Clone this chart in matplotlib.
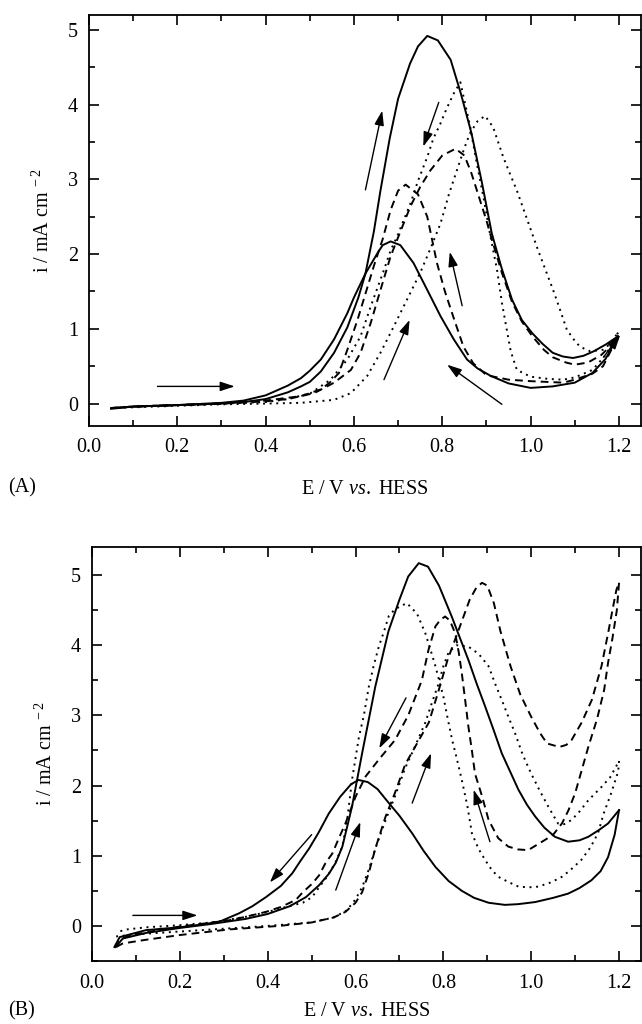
import matplotlib
matplotlib.use("Agg")
import matplotlib.pyplot as plt
from matplotlib.ticker import MultipleLocator

# ---- panel A data (E / V, i / mA cm-2) ----
a_solid_fwd_x = [0.05, 0.1, 0.2, 0.3, 0.35, 0.4, 0.45, 0.48, 0.5, 0.525, 0.555, 0.585, 0.61, 0.626,
                 0.645, 0.66, 0.681, 0.70, 0.727, 0.745, 0.766, 0.79, 0.819, 0.842, 0.866, 0.89,
                 0.912, 0.935, 0.958, 0.98, 1.004, 1.027, 1.05, 1.073, 1.096, 1.12, 1.143, 1.17, 1.198]
a_solid_fwd_y = [-0.06, -0.04, -0.02, 0.0, 0.02, 0.06, 0.15, 0.23, 0.29, 0.43, 0.68, 1.02, 1.42, 1.74,
                 2.3, 2.85, 3.55, 4.08, 4.55, 4.78, 4.92, 4.86, 4.6, 4.15, 3.62, 2.95,
                 2.28, 1.8, 1.39, 1.12, 0.94, 0.8, 0.68, 0.63, 0.61, 0.64, 0.7, 0.79, 0.9]
a_solid_rev_x = [1.198, 1.17, 1.14, 1.1, 1.05, 1.0, 0.95, 0.91, 0.88, 0.856, 0.826, 0.796, 0.766,
                 0.735, 0.705, 0.683, 0.665, 0.653, 0.626, 0.6, 0.585, 0.555, 0.525, 0.5, 0.48,
                 0.45, 0.4, 0.35, 0.3, 0.2, 0.1, 0.05]
a_solid_rev_y = [0.9, 0.6, 0.41, 0.28, 0.23, 0.21, 0.27, 0.37, 0.47, 0.59, 0.86, 1.17, 1.52,
                 1.88, 2.12, 2.17, 2.12, 2.01, 1.74, 1.42, 1.21, 0.86, 0.59, 0.44, 0.34,
                 0.24, 0.11, 0.04, 0.01, -0.02, -0.04, -0.07]

a_dash_fwd_x = [0.05, 0.1, 0.2, 0.3, 0.4, 0.45, 0.51, 0.555, 0.593, 0.615, 0.638, 0.66, 0.683,
                0.705, 0.728, 0.75, 0.773, 0.8, 0.83, 0.85, 0.865, 0.878, 0.9, 0.912, 0.935,
                0.958, 0.98, 1.004, 1.03, 1.05, 1.08, 1.1, 1.13, 1.16, 1.198]
a_dash_fwd_y = [-0.06, -0.04, -0.02, 0.0, 0.03, 0.06, 0.14, 0.28, 0.45, 0.68, 1.08, 1.52, 1.97,
                2.3, 2.64, 2.9, 3.12, 3.32, 3.41, 3.32, 3.1, 2.86, 2.45, 2.2, 1.75,
                1.36, 1.1, 0.9, 0.72, 0.62, 0.55, 0.52, 0.55, 0.65, 0.87]
a_dash_rev_x = [1.198, 1.187, 1.164, 1.14, 1.1, 1.074, 1.0, 0.95, 0.9, 0.87, 0.848, 0.825, 0.806,
                0.788, 0.766, 0.745, 0.717, 0.7, 0.683, 0.665, 0.645, 0.625, 0.608, 0.585, 0.566,
                0.545, 0.525, 0.48, 0.4, 0.3, 0.2, 0.1, 0.05]
a_dash_rev_y = [0.87, 0.77, 0.5, 0.4, 0.32, 0.28, 0.3, 0.32, 0.38, 0.54, 0.76, 1.16, 1.5,
                1.88, 2.5, 2.8, 2.93, 2.85, 2.59, 2.2, 1.84, 1.45, 1.12, 0.72, 0.41,
                0.28, 0.19, 0.1, 0.04, 0.0, -0.02, -0.04, -0.06]

a_dot_fwd_x = [0.05, 0.2, 0.3, 0.4, 0.48, 0.555, 0.593, 0.63, 0.66, 0.69, 0.72, 0.75, 0.775, 0.796,
               0.815, 0.833, 0.85, 0.863, 0.88, 0.897, 0.915, 0.938, 0.955, 0.969, 0.99, 1.014,
               1.033, 1.051, 1.067, 1.082, 1.1, 1.112, 1.135, 1.164, 1.18, 1.198]
a_dot_fwd_y = [-0.06, -0.03, -0.01, 0.0, 0.01, 0.05, 0.14, 0.37, 0.68, 1.03, 1.39, 1.75, 2.1, 2.41,
               2.8, 3.12, 3.42, 3.62, 3.78, 3.85, 3.7, 3.3, 3.05, 2.85, 2.5, 2.1,
               1.8, 1.52, 1.25, 0.99, 0.84, 0.76, 0.7, 0.72, 0.8, 0.95]
a_dot_rev_x = [1.198, 1.17, 1.14, 1.1, 1.074, 1.04, 1.0, 0.969, 0.955, 0.946, 0.935, 0.924, 0.909,
               0.893, 0.878, 0.863, 0.848, 0.841, 0.826, 0.81, 0.796, 0.78, 0.766, 0.745, 0.728,
               0.698, 0.683, 0.668, 0.638, 0.615, 0.585, 0.547, 0.502, 0.45, 0.4, 0.3, 0.2, 0.1, 0.05]
a_dot_rev_y = [0.95, 0.65, 0.45, 0.35, 0.32, 0.33, 0.36, 0.45, 0.7, 0.99, 1.35, 1.79, 2.24,
               2.77, 3.22, 3.71, 4.11, 4.3, 4.15, 3.95, 3.75, 3.55, 3.3, 2.98, 2.68,
               2.24, 2.05, 1.79, 1.3, 0.9, 0.59, 0.32, 0.14, 0.06, 0.02, 0.0, -0.02, -0.04, -0.06]

# ---- panel B data ----
b_solid_fwd_x = [0.054, 0.07, 0.123, 0.199, 0.274, 0.35, 0.4, 0.45, 0.487, 0.517, 0.539, 0.555,
                 0.57, 0.592, 0.615, 0.645, 0.675, 0.70, 0.72, 0.744, 0.765, 0.79, 0.819, 0.838,
                 0.857, 0.876, 0.895, 0.914, 0.933, 0.952, 0.971, 0.99, 1.009, 1.03, 1.054, 1.084,
                 1.11, 1.13, 1.155, 1.175, 1.2]
b_solid_fwd_y = [-0.3, -0.18, -0.1, -0.03, 0.03, 0.1, 0.17, 0.28, 0.41, 0.58, 0.74, 0.9,
                 1.13, 1.7, 2.46, 3.41, 4.2, 4.65, 4.98, 5.17, 5.12, 4.85, 4.41, 4.1,
                 3.79, 3.45, 3.13, 2.8, 2.46, 2.2, 1.94, 1.73, 1.56, 1.4, 1.27, 1.2,
                 1.22, 1.27, 1.37, 1.46, 1.65]
b_solid_rev_x = [1.2, 1.19, 1.175, 1.158, 1.137, 1.11, 1.084, 1.05, 1.009, 0.97, 0.94, 0.903, 0.87,
                 0.842, 0.812, 0.782, 0.755, 0.729, 0.7, 0.676, 0.65, 0.628, 0.607, 0.59, 0.565,
                 0.539, 0.515, 0.494, 0.475, 0.456, 0.43, 0.396, 0.365, 0.335, 0.29, 0.25, 0.199,
                 0.123, 0.063, 0.051]
b_solid_rev_y = [1.65, 1.3, 0.98, 0.78, 0.65, 0.54, 0.46, 0.4, 0.34, 0.31, 0.3, 0.33, 0.4,
                 0.5, 0.64, 0.84, 1.07, 1.32, 1.57, 1.75, 1.95, 2.05, 2.08, 2.02, 1.84,
                 1.6, 1.32, 1.1, 0.93, 0.75, 0.57, 0.41, 0.28, 0.18, 0.06, 0.02, -0.02,
                 -0.06, -0.16, -0.3]

b_dash_fwd_x = [0.055, 0.07, 0.12, 0.2, 0.312, 0.426, 0.501, 0.55, 0.577, 0.6, 0.615, 0.63, 0.645,
                0.668, 0.69, 0.713, 0.74, 0.767, 0.789, 0.81, 0.832, 0.86, 0.875, 0.888, 0.9,
                0.915, 0.93, 0.953, 0.975, 1.0, 1.02, 1.036, 1.064, 1.08, 1.092, 1.115, 1.138,
                1.16, 1.175, 1.185, 1.194, 1.2]
b_dash_fwd_y = [-0.3, -0.25, -0.2, -0.13, -0.05, 0.0, 0.05, 0.12, 0.2, 0.33, 0.48, 0.75, 1.1,
                1.55, 1.9, 2.3, 2.6, 2.9, 3.35, 3.8, 4.17, 4.65, 4.82, 4.89, 4.85,
                4.6, 4.2, 3.7, 3.3, 2.98, 2.75, 2.6, 2.55, 2.58, 2.65, 2.9, 3.22,
                3.7, 4.17, 4.5, 4.79, 4.89]
b_dash_rev_x = [1.2, 1.195, 1.185, 1.175, 1.166, 1.15, 1.13, 1.1, 1.085, 1.07, 1.05, 1.03, 0.993,
                0.97, 0.948, 0.925, 0.903, 0.888, 0.872, 0.865, 0.857, 0.85, 0.842, 0.835, 0.827,
                0.815, 0.804, 0.793, 0.782, 0.766, 0.751, 0.72, 0.69, 0.653, 0.623, 0.6, 0.577,
                0.56, 0.547, 0.532, 0.517, 0.501, 0.48, 0.464, 0.43, 0.396, 0.35, 0.312, 0.25,
                0.199, 0.123, 0.08, 0.063, 0.055]
b_dash_rev_y = [4.89, 4.5, 4.1, 3.75, 3.36, 2.95, 2.55, 1.89, 1.65, 1.46, 1.3, 1.22, 1.08,
                1.09, 1.13, 1.25, 1.51, 1.85, 2.17, 2.5, 2.84, 3.2, 3.6, 3.9, 4.17,
                4.35, 4.41, 4.36, 4.27, 3.93, 3.5, 3.0, 2.65, 2.37, 2.13, 1.84, 1.46,
                1.22, 1.03, 0.9, 0.72, 0.6, 0.48, 0.37, 0.27, 0.2, 0.13, 0.08, 0.03,
                -0.01, -0.09, -0.15, -0.2, -0.3]

b_dot_fwd_x = [0.055, 0.1, 0.2, 0.3, 0.4, 0.5, 0.55, 0.58, 0.6, 0.615, 0.63, 0.645, 0.668, 0.69,
               0.713, 0.735, 0.759, 0.775, 0.789, 0.8, 0.812, 0.83, 0.857, 0.88, 0.903, 0.918,
               0.933, 0.948, 0.963, 0.98, 1.0, 1.02, 1.039, 1.061, 1.075, 1.092, 1.11, 1.13,
               1.16, 1.18, 1.2]
b_dot_fwd_y = [-0.15, -0.12, -0.08, -0.04, 0.0, 0.05, 0.12, 0.22, 0.38, 0.55, 0.8, 1.1, 1.5, 1.85,
               2.25, 2.55, 2.9, 3.2, 3.45, 3.7, 3.9, 4.0, 3.98, 3.88, 3.7, 3.45,
               3.22, 2.98, 2.75, 2.45, 2.17, 1.92, 1.7, 1.46, 1.45, 1.51, 1.63, 1.79,
               1.98, 2.12, 2.35]
b_dot_rev_x = [1.2, 1.198, 1.182, 1.165, 1.152, 1.135, 1.114, 1.09, 1.07, 1.045, 1.016, 0.995,
               0.971, 0.95, 0.925, 0.91, 0.895, 0.88, 0.865, 0.855, 0.842, 0.83, 0.82, 0.81, 0.8,
               0.782, 0.77, 0.759, 0.74, 0.717, 0.7, 0.688, 0.676, 0.665, 0.653, 0.641, 0.63,
               0.619, 0.608, 0.592, 0.581, 0.57, 0.554, 0.535, 0.517, 0.501, 0.48, 0.441, 0.4,
               0.35, 0.274, 0.2, 0.123, 0.08, 0.055]
b_dot_rev_y = [2.35, 2.2, 1.89, 1.6, 1.32, 1.12, 0.94, 0.8, 0.7, 0.62, 0.56, 0.55,
               0.56, 0.62, 0.7, 0.8, 0.94, 1.1, 1.32, 1.7, 2.08, 2.4, 2.65, 2.95, 3.27,
               3.7, 3.95, 4.17, 4.45, 4.6, 4.55, 4.5, 4.42, 4.2, 3.98, 3.7, 3.4,
               3.0, 2.7, 2.08, 1.51, 1.13, 0.9, 0.7, 0.55, 0.41, 0.33, 0.27, 0.2,
               0.13, 0.05, 0.01, -0.02, -0.05, -0.09]

# scan direction arrows: (x_tail, y_tail, x_head, y_head)
a_arrows = [(0.155, 0.23, 0.33, 0.23), (0.626, 2.86, 0.664, 3.92), (0.792, 4.03, 0.757, 3.44),
            (0.845, 1.31, 0.817, 2.03), (0.668, 0.32, 0.726, 1.12), (0.935, -0.01, 0.811, 0.52),
            (1.165, 0.62, 1.203, 0.92)]
b_arrows = [(0.093, 0.15, 0.24, 0.15), (0.50, 1.3, 0.405, 0.62), (0.555, 0.51, 0.611, 1.48),
            (0.715, 3.25, 0.654, 2.53), (0.729, 1.75, 0.772, 2.46), (0.906, 1.2, 0.869, 1.94)]

plt.rcParams['font.family'] = ['Liberation Serif', 'DejaVu Serif']
plt.rcParams['mathtext.fontset'] = 'custom'
plt.rcParams['mathtext.rm'] = 'Liberation Serif'
plt.rcParams['mathtext.it'] = 'Liberation Serif:italic'
plt.rcParams['mathtext.default'] = 'regular'

DASH = (4.0, 2.6)
DOT = (1.0, 2.4)
LW = 1.4
FS = 14.5


def draw_panel(ax, curves, arrows, ylim, xlabelpad):
    for xs, ys, dashes in curves:
        line, = ax.plot(xs, ys, color='k', lw=LW)
        if dashes is not None:
            line.set_dashes(dashes)
    for x0, y0, x1, y1 in arrows:
        ax.annotate('', xy=(x1, y1), xytext=(x0, y0),
                    arrowprops=dict(arrowstyle='-|>,head_length=0.55,head_width=0.18',
                                    color='k', lw=1.0, mutation_scale=16,
                                    shrinkA=0, shrinkB=0))
    ax.set_xlim(0.0, 1.25)
    ax.set_ylim(*ylim)
    ax.set_xticks([0.0, 0.2, 0.4, 0.6, 0.8, 1.0, 1.2])
    ax.set_xticklabels(['0.0', '0.2', '0.4', '0.6', '0.8', '1.0', '1.2'])
    ax.set_yticks([0, 1, 2, 3, 4, 5])
    ax.xaxis.set_minor_locator(MultipleLocator(0.1))
    ax.yaxis.set_minor_locator(MultipleLocator(0.5))
    ax.tick_params(which='both', direction='in', top=True, right=True, width=1.2,
                   labelsize=FS)
    ax.tick_params(which='major', length=7)
    ax.tick_params(which='minor', length=4)
    ax.tick_params(axis='x', pad=9)
    ax.tick_params(axis='y', pad=8)
    for s in ax.spines.values():
        s.set_linewidth(1.3)
    ax.set_ylabel(r'i / mA cm$^{\ -2}$', fontsize=FS, labelpad=10)
    ax.set_xlabel(r'E / V $\mathit{vs.}$ HESS', fontsize=FS, labelpad=xlabelpad)


fig = plt.figure(figsize=(6.42, 10.24), dpi=100)
ax_a = fig.add_axes([89 / 642, 1 - 426 / 1024, 552 / 642, 411 / 1024])
ax_b = fig.add_axes([92 / 642, 1 - 961 / 1024, 549 / 642, 414 / 1024])

draw_panel(ax_a,
           [(a_solid_fwd_x, a_solid_fwd_y, None), (a_solid_rev_x, a_solid_rev_y, None),
            (a_dash_fwd_x, a_dash_fwd_y, DASH), (a_dash_rev_x, a_dash_rev_y, DASH),
            (a_dot_fwd_x, a_dot_fwd_y, DOT), (a_dot_rev_x, a_dot_rev_y, DOT)],
           a_arrows, (-0.3, 5.2), 16)
draw_panel(ax_b,
           [(b_solid_fwd_x, b_solid_fwd_y, None), (b_solid_rev_x, b_solid_rev_y, None),
            (b_dash_fwd_x, b_dash_fwd_y, DASH), (b_dash_rev_x, b_dash_rev_y, DASH),
            (b_dot_fwd_x, b_dot_fwd_y, DOT), (b_dot_rev_x, b_dot_rev_y, DOT)],
           b_arrows, (-0.5, 5.4), 7)

fig.text(8 / 642, 1 - 488 / 1024, '(A)', fontsize=FS, ha='left', va='center')
fig.text(8 / 642, 1 - 1011 / 1024, '(B)', fontsize=FS, ha='left', va='center')

fig.savefig('out.png', dpi=100)
